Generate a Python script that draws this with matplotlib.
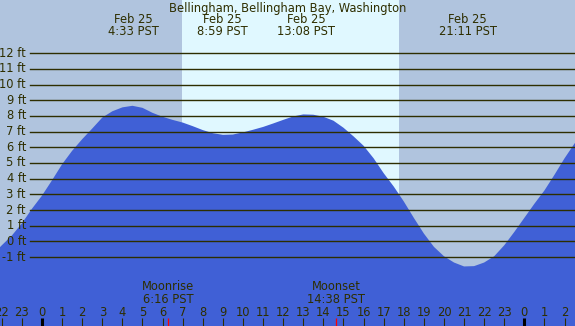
import matplotlib.pyplot as plt
import matplotlib.transforms as mtransforms
import numpy as np

# hora (relativa a 0h de 25 fev) e altura da maré em pés
horas = [-2.5, -2.0, -1.5, -1.0, -0.5, 0.0, 0.5, 1.0, 1.5, 2.0, 2.5, 3.0, 3.5, 4.0, 4.5,
         5.0, 5.5, 6.0, 6.5, 7.0, 7.5, 8.0, 8.5, 9.0, 9.5, 10.0, 10.5, 11.0, 11.5, 12.0,
         12.5, 13.0, 13.5, 14.0, 14.5, 15.0, 15.5, 16.0, 16.5, 17.0, 17.5, 18.0, 18.5,
         19.0, 19.5, 20.0, 20.5, 21.0, 21.5, 22.0, 22.5, 23.0, 23.5, 24.0, 24.5, 25.0,
         25.5, 26.0, 26.5, 27.0]
altura = [-0.9, -0.25, 0.37, 1.15, 2.08, 2.92, 3.9, 4.92, 5.78, 6.52, 7.2, 7.9, 8.3, 8.55, 8.65,
          8.52, 8.2, 7.95, 7.75, 7.58, 7.35, 7.1, 6.9, 6.8, 6.82, 6.95, 7.12, 7.3, 7.52, 7.75,
          7.97, 8.1, 8.08, 7.95, 7.7, 7.25, 6.7, 6.1, 5.3, 4.35, 3.5, 2.55, 1.5,
          0.5, -0.35, -0.95, -1.35, -1.6, -1.58, -1.35, -0.95, -0.25, 0.6, 1.5, 2.4, 3.25,
          4.25, 5.3, 6.25, 7.0]

niveis = list(range(-1, 13))
nascer_sol = 6.97
por_sol = 17.76
extremos = [4.55, 8.98, 13.13, 21.18]
extremos_txt = ['4:33 PST', '8:59 PST', '13:08 PST', '21:11 PST']
lua_horas = [6.27, 14.63]
lua_txt = ['Moonrise\n6:16 PST', 'Moonset\n14:38 PST']
horas_ticks = list(range(-2, 27))

cor_noite = '#B0C4DE'
cor_dia = '#E0F8FF'
cor_agua = '#4060D6'
cor_txt = '#2E2E00'
fs = 8.3

fig = plt.figure(figsize=(5.75, 3.26), dpi=100)
ax = fig.add_axes([0, 0, 1, 1])
ax.set_xlim(-2.09, 26.52)
ax.set_ylim(-5.4, 15.4)
ax.axis('off')

ax.axvspan(-5, 30, color=cor_noite, lw=0)
ax.axvspan(nascer_sol, por_sol, color=cor_dia, lw=0)

ax.fill_between(horas, altura, -10, color=cor_agua, lw=0)

for n in niveis:
    ax.plot([-0.6, 30], [n, n], color=cor_txt, lw=1.0)
    ax.text(-0.8, n, f'{n} ft', ha='right', va='center', color=cor_txt, fontsize=fs)

ax.text(0.5, 0.975, 'Bellingham, Bellingham Bay, Washington', transform=ax.transAxes,
        ha='center', va='center', color=cor_txt, fontsize=fs)
for h, t in zip(extremos, extremos_txt):
    ax.text(h, 15.4 - 19 / 15.67, 'Feb 25', ha='center', va='center', color=cor_txt, fontsize=fs)
    ax.text(h, 15.4 - 31 / 15.67, t, ha='center', va='center', color=cor_txt, fontsize=fs)

trans = mtransforms.blended_transform_factory(ax.transData, ax.transAxes)
for h in horas_ticks:
    lw = 2.2 if h % 24 == 0 else 0.8
    ax.plot([h, h], [0, 8 / 326], color='black' if h % 24 == 0 else cor_txt, lw=lw,
            transform=trans, solid_capstyle='butt')
    ax.text(h, 14 / 326, str(h % 24), transform=trans, ha='center', va='center',
            color=cor_txt, fontsize=fs)

for h, t in zip(lua_horas, lua_txt):
    ax.plot([h, h], [0, 8 / 326], color='red', lw=0.9, transform=trans, solid_capstyle='butt')
    ax.text(h, 33 / 326, t, transform=trans, ha='center', va='center', color=cor_txt,
            fontsize=fs, linespacing=1.0)

fig.savefig('out.png', dpi=100)
